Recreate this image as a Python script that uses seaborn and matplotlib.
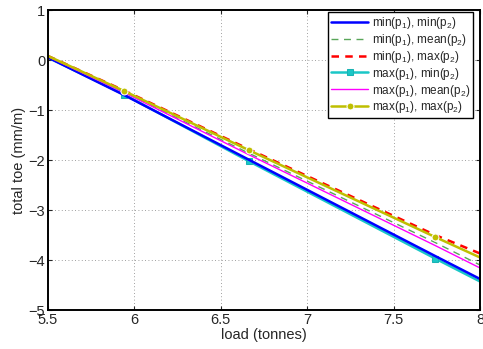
import numpy as np
import pandas as pd
import seaborn as sns
import matplotlib
matplotlib.use("Agg")
import matplotlib.pyplot as plt

# load values (tonnes) where the curves were sampled
load = [5.5, 5.94, 6.66, 7.74, 8.0]

# total toe (mm/m) for each parameter combination
min_min = [0.05, -0.70, -1.99, -3.92, -4.38]
min_mean = [0.07, -0.64, -1.86, -3.65, -4.10]
min_max = [0.08, -0.61, -1.78, -3.50, -3.87]
max_min = [0.05, -0.69, -2.02, -3.97, -4.43]
max_mean = [0.07, -0.65, -1.89, -3.71, -4.16]
max_max = [0.08, -0.62, -1.80, -3.54, -3.95]

labels = [
    "min(p$_1$), min(p$_2$)",
    "min(p$_1$), mean(p$_2$)",
    "min(p$_1$), max(p$_2$)",
    "max(p$_1$), min(p$_2$)",
    "max(p$_1$), mean(p$_2$)",
    "max(p$_1$), max(p$_2$)",
]
series = [min_min, min_mean, min_max, max_min, max_mean, max_max]

sns.set_style("ticks")
plt.rcParams["font.family"] = ["Liberation Sans", "DejaVu Sans"]
plt.rcParams["mathtext.fontset"] = "custom"
plt.rcParams["mathtext.rm"] = "Liberation Sans"
plt.rcParams["mathtext.it"] = "Liberation Sans"

styles = [
    dict(color=(0, 0, 1), lw=1.8, ls="-"),
    dict(color=(0.35, 0.65, 0.35), lw=1.0, ls=(0, (5, 4))),
    dict(color=(1, 0, 0), lw=1.8, ls=(0, (3, 2.5))),
    dict(color=(0.1, 0.78, 0.78), lw=1.8, ls="-", marker="s", ms=5,
         mfc=(0.1, 0.78, 0.78), mec=(0.1, 0.7, 0.7), markevery=[1, 2, 3]),
    dict(color=(1, 0, 1), lw=1.0, ls="-"),
    dict(color=(0.75, 0.75, 0), lw=1.8, ls="-", marker="o", ms=5,
         markevery=[1, 2, 3]),
]

fig = plt.figure(figsize=(4.83, 3.49), dpi=100)
ax = fig.add_axes([0.0994, 0.1117, 0.8946, 0.8596])

# draw cyan first so blue sits just above it
order = [3, 0, 1, 2, 4, 5]
handles = {}
for i in order:
    df = pd.DataFrame({"load": load, "toe": series[i]})
    st = dict(styles[i])
    sns.lineplot(data=df, x="load", y="toe", ax=ax, color=st.pop("color"),
                 linewidth=st.pop("lw"), linestyle=st.pop("ls"), **st)
    handles[i] = ax.lines[-1]

ax.set_xlim(5.5, 8)
ax.set_ylim(-5, 1)
ax.set_xticks([5.5, 6, 6.5, 7, 7.5, 8])
ax.set_xticklabels(["5.5", "6", "6.5", "7", "7.5", "8"])
ax.set_yticks([-5, -4, -3, -2, -1, 0, 1])
ax.set_yticklabels(["\u22125", "\u22124", "\u22123", "\u22122", "\u22121", "0", "1"])
ax.tick_params(direction="in", length=3, labelsize=10.5, top=True, right=True,
               width=0.8, pad=2)
ax.grid(True, linestyle=(0, (1, 3)), color="0.5", linewidth=0.6)
for s in ax.spines.values():
    s.set_linewidth(1.4)
    s.set_color("black")
ax.set_xlabel("load (tonnes)", fontsize=10.5, labelpad=1)
ax.set_ylabel("total toe (mm/m)", fontsize=10.5, labelpad=2)

leg = ax.legend([handles[i] for i in range(6)], labels, loc="upper right",
                bbox_to_anchor=(0.984, 0.994), borderaxespad=0,
                fontsize=8.5, frameon=True, fancybox=False,
                handlelength=3.2, handletextpad=0.3, borderpad=0.25,
                labelspacing=0.08)
leg.get_frame().set_edgecolor("black")
leg.get_frame().set_linewidth(1.0)
leg.get_frame().set_alpha(1)

fig.savefig("out.png", dpi=100)
